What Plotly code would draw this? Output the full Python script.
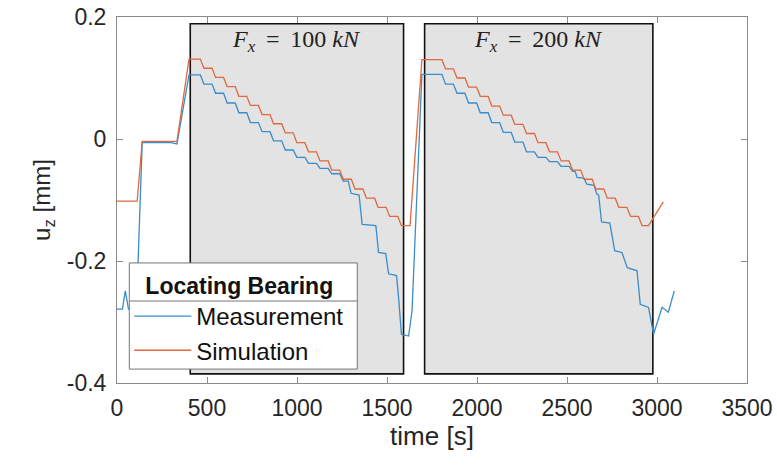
import plotly.graph_objects as go

# ---------------- data ----------------
sim_t = [0, 112, 140, 333, 400,
         463, 483, 528, 548, 592, 612, 657, 677, 721, 741, 786, 806, 850, 870,
         915, 935, 979, 999, 1044, 1064, 1108, 1128, 1173, 1193, 1237, 1257,
         1302, 1322, 1366, 1386, 1431, 1451, 1495, 1515, 1560, 1580, 1628,
         1694, 1805, 1825, 1869, 1889, 1933, 1953, 1998, 2018, 2062, 2082,
         2126, 2146, 2190, 2210, 2255, 2275, 2319, 2339, 2383, 2403, 2447,
         2467, 2511, 2531, 2576, 2596, 2640, 2660, 2704, 2724, 2768, 2788,
         2833, 2853, 2897, 2917, 2953, 3035]
sim_v = [-0.102, -0.102, -0.004, -0.004, 0.131,
         0.131, 0.116, 0.116, 0.101, 0.101, 0.086, 0.086, 0.070, 0.070, 0.055,
         0.055, 0.040, 0.040, 0.025, 0.025, 0.010, 0.010, -0.006, -0.006,
         -0.021, -0.021, -0.036, -0.036, -0.051, -0.051, -0.066, -0.066,
         -0.082, -0.082, -0.097, -0.097, -0.112, -0.112, -0.127, -0.127,
         -0.142, -0.142,
         0.130, 0.130, 0.115, 0.115, 0.100, 0.100, 0.085, 0.085, 0.070, 0.070,
         0.054, 0.054, 0.039, 0.039, 0.024, 0.024, 0.009, 0.009, -0.006,
         -0.006, -0.021, -0.021, -0.036, -0.036, -0.051, -0.051, -0.066,
         -0.066, -0.082, -0.082, -0.097, -0.097, -0.112, -0.112, -0.127,
         -0.127, -0.142, -0.142, -0.103]

meas_t = [0, 30, 46, 64, 108, 140, 300, 333, 400,
          463, 483, 528, 548, 592, 612, 657, 677, 721, 741, 786, 806, 850,
          870, 915, 935, 979, 999, 1044, 1064, 1108, 1128, 1173, 1193, 1237,
          1257, 1285, 1300, 1345, 1362, 1438, 1453, 1493, 1509, 1553, 1565,
          1580, 1620, 1639,
          1694, 1805, 1825, 1869, 1889, 1933, 1953, 1998, 2018, 2062, 2082,
          2126, 2146, 2190, 2210, 2255, 2275, 2319, 2339, 2383, 2403, 2447,
          2467, 2511, 2531, 2545, 2556, 2593, 2610, 2650, 2665, 2676, 2692,
          2738, 2765, 2805, 2835, 2889, 2907, 2953, 2981, 3028, 3063, 3096]
meas_v = [-0.279, -0.279, -0.249, -0.279, -0.279, -0.006, -0.006, -0.008, 0.105,
          0.105, 0.090, 0.090, 0.075, 0.075, 0.059, 0.059, 0.043, 0.043,
          0.027, 0.027, 0.012, 0.012, -0.003, -0.003, -0.018, -0.018, -0.030,
          -0.030, -0.040, -0.040, -0.048, -0.048, -0.057, -0.057, -0.069,
          -0.069, -0.089, -0.092, -0.140, -0.142, -0.186, -0.188, -0.221,
          -0.224, -0.262, -0.320, -0.323, -0.282,
          0.106, 0.106, 0.090, 0.090, 0.075, 0.075, 0.059, 0.059, 0.043, 0.043,
          0.027, 0.027, 0.011, 0.011, -0.005, -0.005, -0.021, -0.021, -0.030,
          -0.030, -0.037, -0.037, -0.045, -0.045, -0.053, -0.053, -0.063,
          -0.064, -0.074, -0.076, -0.090, -0.092, -0.136, -0.138, -0.183,
          -0.186, -0.211, -0.216, -0.271, -0.276, -0.320, -0.276, -0.284,
          -0.249]

# load windows (shaded boxes)
win_start = [407, 1709]
win_end = [1592, 2977]
win_label = ["<i>F</i><sub><i>x</i></sub>\u2009 = \u2009100 <i>kN</i>",
             "<i>F</i><sub><i>x</i></sub>\u2009 = \u2009200 <i>kN</i>"]
win_bottom = -0.385
win_top = 0.189

x_ticks = [0, 500, 1000, 1500, 2000, 2500, 3000, 3500]
y_ticks = [0.2, 0, -0.2, -0.4]
y_ticktext = ["0.2", "0", "-0.2", "-0.4"]

series_names = ["Measurement", "Simulation"]
series_colors = ["#3a8ccb", "#dd6a40"]
legend_title = "Locating Bearing"

# ---------------- figure ----------------
fig = go.Figure()
fig.add_trace(go.Scatter(x=meas_t, y=meas_v, mode="lines", name=series_names[0],
                         line=dict(color=series_colors[0], width=1.3)))
fig.add_trace(go.Scatter(x=sim_t, y=sim_v, mode="lines", name=series_names[1],
                         line=dict(color=series_colors[1], width=1.3)))

for s, e, lab in zip(win_start, win_end, win_label):
    fig.add_shape(type="rect", xref="x", yref="y", x0=s, x1=e,
                  y0=win_bottom, y1=win_top, layer="below",
                  fillcolor="#e3e3e3", line=dict(color="#111111", width=1.6))
    fig.add_annotation(x=(s + e) / 2, y=win_top, xref="x", yref="y",
                       text=lab, showarrow=False, yanchor="top", yshift=0,
                       font=dict(family="Liberation Serif", size=24, color="#222"))

axis_common = dict(showline=True, linecolor="#8a8a8a", linewidth=1,
                   mirror="ticks", ticks="inside", ticklen=6,
                   tickcolor="#8a8a8a", showgrid=False, zeroline=False,
                   automargin=False,
                   tickfont=dict(family="Liberation Sans", size=23, color="#262626"))

fig.update_layout(
    width=777, height=466,
    margin=dict(l=117, r=30, t=17, b=83),
    paper_bgcolor="white", plot_bgcolor="white",
    xaxis=dict(range=[0, 3500], tickvals=x_ticks, ticklabelstandoff=4,
               title=dict(text="time [s]", standoff=4,
                          font=dict(family="Liberation Sans", size=26, color="#262626")),
               **axis_common),
    yaxis=dict(range=[-0.4, 0.2], tickvals=y_ticks, ticktext=y_ticktext,
               ticklabelstandoff=5,
               title=dict(text="u<sub>z</sub> [mm]", standoff=9,
                          font=dict(family="Liberation Sans", size=24, color="#262626")),
               **axis_common),
    legend=dict(x=0.0195, y=0.325, xanchor="left", yanchor="top",
                bgcolor="rgba(0,0,0,0)", borderwidth=0,
                itemwidth=57, tracegroupgap=0,
                font=dict(family="Liberation Sans", size=24, color="#111"),
                title=dict(text="<b>" + legend_title + "</b>", side="top center",
                           font=dict(family="Liberation Sans", size=23, color="#111"))),
    showlegend=True,
)

# legend frame and separator line under the legend title (drawn above the data)
fig.add_shape(type="rect", xref="paper", yref="paper", layer="above",
              x0=0.0195, x1=0.3814, y0=0.038, y1=0.328,
              fillcolor="white", line=dict(color="#777777", width=1))
fig.add_shape(type="line", xref="paper", yref="paper", layer="above",
              x0=0.0195, x1=0.3814, y0=0.224, y1=0.224,
              line=dict(color="#777777", width=1))

fig.write_html("out.html")
